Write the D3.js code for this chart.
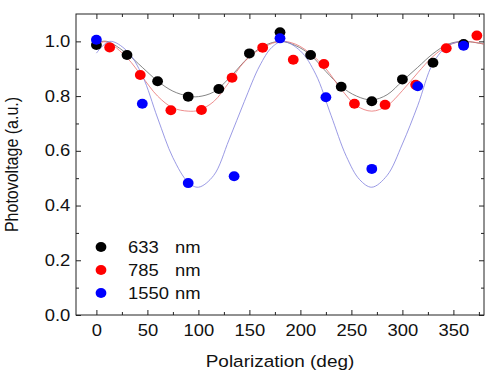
<!DOCTYPE html>
<html lang="en">
<head>
<meta charset="UTF-8">
<script src="https://d3js.org/d3.v7.min.js"></script>
<title>Photovoltage vs polarization</title>
<style>
  body { margin: 0; background: #fff; }
  text { font-family: "Liberation Sans", Arial, sans-serif; }
</style>
</head>
<body>
<script>
// measured points
const angles633 = [0, 30, 60, 90, 120, 150, 180, 210, 240, 270, 300, 330, 360];
const volts633  = [0.987, 0.950, 0.854, 0.798, 0.826, 0.956, 1.033, 0.950, 0.834, 0.781, 0.861, 0.922, 0.99];

const angles785 = [13, 43, 73, 103, 133, 163, 193, 223, 253, 283, 313, 343, 373];
const volts785  = [0.978, 0.877, 0.748, 0.749, 0.867, 0.977, 0.933, 0.917, 0.772, 0.768, 0.841, 0.975, 1.021];

const angles1550 = [0, 45, 90, 135, 180, 225, 270, 315, 360];
const volts1550  = [1.006, 0.772, 0.482, 0.507, 1.011, 0.796, 0.534, 0.836, 0.984];

// fit curves
const fitAngles633 = [0, 10, 30, 45, 60, 75, 90, 100, 115, 130, 150, 165, 180, 195, 210, 225, 240, 255, 270, 285, 300, 315, 330, 345, 360, 380];
const fitVolts633  = [0.995, 1.0, 0.955, 0.905, 0.855, 0.818, 0.80, 0.798, 0.815, 0.865, 0.945, 0.985, 1.0, 0.985, 0.95, 0.89, 0.835, 0.80, 0.786, 0.805, 0.855, 0.905, 0.955, 0.99, 1.0, 0.99];

const fitAngles785 = [0, 10, 30, 45, 60, 75, 90, 100, 115, 130, 145, 160, 180, 195, 210, 225, 240, 255, 270, 285, 300, 315, 330, 345, 360, 380];
const fitVolts785  = [0.99, 0.998, 0.94, 0.87, 0.80, 0.757, 0.745, 0.748, 0.78, 0.85, 0.925, 0.97, 1.0, 0.99, 0.955, 0.90, 0.825, 0.765, 0.745, 0.765, 0.82, 0.885, 0.945, 0.985, 1.0, 0.99];

const fitAngles1550 = [0, 13, 30, 45, 60, 75, 90, 100, 115, 130, 145, 160, 172, 183, 200, 215, 230, 245, 258, 270, 285, 300, 315, 330, 345, 360, 366];
const fitVolts1550  = [0.957, 1.0, 0.965, 0.875, 0.72, 0.575, 0.485, 0.467, 0.51, 0.64, 0.78, 0.91, 0.978, 1.0, 0.965, 0.88, 0.73, 0.58, 0.495, 0.467, 0.51, 0.625, 0.765, 0.92, 0.985, 1.0, 0.998];

const xTicks = [0, 50, 100, 150, 200, 250, 300, 350];
const yTicks = [0.0, 0.2, 0.4, 0.6, 0.8, 1.0];

const W = 491, H = 377;
const plotL = 76, plotR = 484, plotT = 14, plotB = 315;
const stretch = 'scale(1.15,1)';   // the source figure is a bit wider than tall

const svg = d3.select('body').append('svg')
    .attr('width', W)
    .attr('height', H);

const x = d3.scaleLinear().domain([-20, 380]).range([plotL, plotR]);
const y = d3.scaleLinear().domain([0, 1.1]).range([plotB, plotT]);

const minorX = d3.range(-0, 380, 25).filter(v => v % 50 !== 0);
const minorY = d3.range(1, 11).map(v => v / 10).filter((v, i) => i % 2 === 0);

function styleAxis(g) {
    g.select('.domain').remove();
    g.selectAll('line').attr('stroke', '#222').attr('stroke-width', 1);
    g.selectAll('text').attr('font-size', 16).attr('fill', '#111')
        .attr('transform', stretch)
        .style('font-family', '"Liberation Sans", Arial, sans-serif');
}

// bottom
svg.append('g').attr('transform', `translate(0,${plotB})`)
    .call(d3.axisBottom(x).tickValues(xTicks).tickSize(-5).tickSizeOuter(0).tickPadding(10).tickFormat(d3.format('d')))
    .call(styleAxis);
svg.append('g').attr('transform', `translate(0,${plotB})`)
    .call(d3.axisBottom(x).tickValues(minorX).tickSize(-3).tickSizeOuter(0).tickFormat(''))
    .call(styleAxis);
// top
svg.append('g').attr('transform', `translate(0,${plotT})`)
    .call(d3.axisTop(x).tickValues(xTicks).tickSize(-5).tickSizeOuter(0).tickFormat(''))
    .call(styleAxis);
svg.append('g').attr('transform', `translate(0,${plotT})`)
    .call(d3.axisTop(x).tickValues(minorX).tickSize(-3).tickSizeOuter(0).tickFormat(''))
    .call(styleAxis);
// left
svg.append('g').attr('transform', `translate(${plotL},0)`)
    .call(d3.axisLeft(y).tickValues(yTicks).tickSize(-5).tickSizeOuter(0).tickPadding(5).tickFormat(d3.format('.1f')))
    .call(styleAxis);
svg.append('g').attr('transform', `translate(${plotL},0)`)
    .call(d3.axisLeft(y).tickValues(minorY).tickSize(-3).tickSizeOuter(0).tickFormat(''))
    .call(styleAxis);
// right
svg.append('g').attr('transform', `translate(${plotR},0)`)
    .call(d3.axisRight(y).tickValues(yTicks).tickSize(-5).tickSizeOuter(0).tickFormat(''))
    .call(styleAxis);
svg.append('g').attr('transform', `translate(${plotR},0)`)
    .call(d3.axisRight(y).tickValues(minorY).tickSize(-3).tickSizeOuter(0).tickFormat(''))
    .call(styleAxis);

// frame
svg.append('rect')
    .attr('x', plotL).attr('y', plotT)
    .attr('width', plotR - plotL).attr('height', plotB - plotT)
    .attr('fill', 'none').attr('stroke', '#222').attr('stroke-width', 1);

svg.append('defs').append('clipPath').attr('id', 'plot')
    .append('rect').attr('x', plotL).attr('y', plotT)
    .attr('width', plotR - plotL).attr('height', plotB - plotT);

const line = d3.line()
    .x(d => x(d[0]))
    .y(d => y(d[1]))
    .curve(d3.curveCatmullRom.alpha(0.5));

const fits = [
    { a: fitAngles633, v: fitVolts633, color: '#666' },
    { a: fitAngles785, v: fitVolts785, color: '#e87070' },
    { a: fitAngles1550, v: fitVolts1550, color: '#8080dd' }
];

fits.forEach(f => {
    svg.append('path')
        .datum(f.a.map((a, i) => [a, f.v[i]]))
        .attr('clip-path', 'url(#plot)')
        .attr('fill', 'none')
        .attr('stroke', f.color)
        .attr('stroke-width', 0.8)
        .attr('d', line);
});

const series = [
    { a: angles633, v: volts633, color: '#000000', label: '633', },
    { a: angles785, v: volts785, color: '#ff0000', label: '785' },
    { a: angles1550, v: volts1550, color: '#0000ff', label: '1550' }
];

series.forEach(s => {
    svg.append('g')
        .selectAll('ellipse')
        .data(s.a.map((a, i) => [a, s.v[i]]))
        .enter()
        .append('ellipse')
        .attr('cx', d => x(d[0]))
        .attr('cy', d => y(d[1]))
        .attr('rx', 5.4)
        .attr('ry', 5)
        .attr('fill', s.color);
});

// legend
const legend = svg.append('g');
series.forEach((s, i) => {
    const ly = 247 + i * 23;
    legend.append('ellipse').attr('cx', 101).attr('cy', ly).attr('rx', 5.4).attr('ry', 5).attr('fill', s.color);
    legend.append('text').attr('transform', `translate(128,${ly + 6}) ${stretch}`)
        .attr('font-size', 16).attr('fill', '#111').text(s.label);
    legend.append('text').attr('transform', `translate(175,${ly + 6}) ${stretch}`)
        .attr('font-size', 16).attr('fill', '#111').text('nm');
});

// axis titles
svg.append('text')
    .attr('transform', `translate(${(plotL + plotR) / 2},367) ${stretch}`)
    .attr('text-anchor', 'middle')
    .attr('font-size', 16.5)
    .attr('fill', '#111')
    .text('Polarization (deg)');

svg.append('text')
    .attr('transform', `translate(18,${(plotT + plotB) / 2}) ${stretch} rotate(-90)`)
    .attr('text-anchor', 'middle')
    .attr('font-size', 16)
    .attr('fill', '#111')
    .text('Photovoltage (a.u.)');
</script>
</body>
</html>
